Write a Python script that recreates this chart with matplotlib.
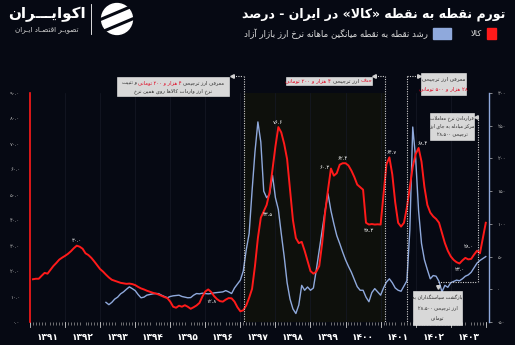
import re

import matplotlib
matplotlib.use("Agg")
import matplotlib.pyplot as plt
from matplotlib.lines import Line2D
from matplotlib.patches import Rectangle, Circle
from matplotlib.transforms import blended_transform_factory

plt.rcParams["font.family"] = ["DejaVu Sans"]

W, H = 515, 345
BG = "#060913"
RED = "#ff1a1a"
BLUE = "#8fa9dc"
GREY = "#b8b8b8"

years = list(range(1391, 1404))

# point-to-point goods inflation (%), one value per month from the first month of 1391
red_start = 1
goods_inflation = [
    16.8, 17.0, 17.0, 18.2, 19.3, 19.0, 20.5, 22.0, 23.2, 24.5,
    25.3, 26.0, 26.8, 27.8, 29.0, 30.0, 29.6, 28.8, 27.0, 26.3,
    25.2, 23.8, 22.3, 20.8, 19.8, 18.6, 17.5, 16.6, 16.2, 15.8,
    15.4, 15.2, 15.0, 15.1, 14.9, 14.5, 13.8, 13.2, 12.8, 12.3,
    11.9, 11.5, 11.2, 10.8, 10.3, 9.8, 9.4, 8.0, 6.0, 5.6,
    6.4, 6.0, 6.6, 6.0, 5.2, 5.8, 6.5, 7.5, 10.0, 12.0,
    12.8, 11.8, 10.2, 9.0, 8.2, 8.0, 8.8, 9.4, 9.3, 8.0,
    5.8, 4.2, 4.6, 6.5, 9.5, 13.0, 22.0, 33.0, 41.0, 43.5,
    46.0, 51.0, 60.0, 69.0, 76.6, 74.5, 70.0, 64.0, 52.0, 40.0,
    33.0, 31.0, 31.5, 28.0, 24.0, 20.0, 19.0, 19.8, 22.0, 31.0,
    43.0, 52.0, 60.3, 57.5, 58.5, 61.8, 62.4, 62.4, 61.5, 59.5,
    57.0, 54.0, 53.0, 52.0, 39.0, 38.3, 38.5, 38.3, 38.4, 38.3,
    50.0, 62.0, 64.7, 58.0, 47.0, 39.0, 37.5, 39.0, 45.0, 53.0,
    61.0, 66.0, 68.4, 63.0, 53.0, 46.0, 43.0, 41.5, 40.5, 39.0,
    35.0, 31.0, 28.0, 25.8, 24.4, 23.5, 23.0, 24.2, 25.2, 24.6,
    24.8, 26.5, 28.0, 27.0, 33.0, 39.0,
]

# point-to-point growth of the monthly average free-market exchange rate (%)
blue_start = 26
fx_growth = [
    -20, -23.5, -20, -15, -12, -7, -4, 0, 3.7, 1,
    -2, -8, -13, -12, -9, -8, -7, -6.5, -6.6, -9,
    -11, -13, -11, -10, -9.5, -9, -11, -12, -13, -12.7,
    -9, -6.5, -7, -6, -6.5, -7, -6.5, -5.5, -5, -4.5,
    -4, -2, -4, -6.5, 2, 8, 14, 28, 60, 85,
    150, 210, 255.8, 225, 150, 140, 145, 174, 140, 122,
    85, 50, 10, -15, -30, -37, -24, 6, -1.5, 3.5,
    -1.5, 2, 30, 60, 90, 120, 146, 120, 100, 82,
    70, 57, 45, 35, 26, 15, 4, -1.5, -1.5, -12,
    -19, -5, 1, -4, -9, 2, 11, 16, 10, 2,
    -1.5, -3, 5, 13, 90, 248, 200, 120, 70, 45,
    30, 16, 21, 20, 12, -4, 6, 3, 10, 12,
    14, 13, 16, 20, 22, 26, 33, 40, 44, 47,
    50,
]

# months (counted from the start of 1391) of the policy changes
policy_months = [73.4, 121.4, 129.2, 153.2]

# ---- Persian text shaping (isolated, final, initial, medial)
FORMS = {
    "ا": ("\uFE8D", "\uFE8E", None, None),
    "آ": ("\uFE81", "\uFE82", None, None),
    "ب": ("\uFE8F", "\uFE90", "\uFE91", "\uFE92"),
    "پ": ("\uFB56", "\uFB57", "\uFB58", "\uFB59"),
    "ت": ("\uFE95", "\uFE96", "\uFE97", "\uFE98"),
    "ث": ("\uFE99", "\uFE9A", "\uFE9B", "\uFE9C"),
    "ج": ("\uFE9D", "\uFE9E", "\uFE9F", "\uFEA0"),
    "چ": ("\uFB7A", "\uFB7B", "\uFB7C", "\uFB7D"),
    "ح": ("\uFEA1", "\uFEA2", "\uFEA3", "\uFEA4"),
    "خ": ("\uFEA5", "\uFEA6", "\uFEA7", "\uFEA8"),
    "د": ("\uFEA9", "\uFEAA", None, None),
    "ذ": ("\uFEAB", "\uFEAC", None, None),
    "ر": ("\uFEAD", "\uFEAE", None, None),
    "ز": ("\uFEAF", "\uFEB0", None, None),
    "ژ": ("\uFB8A", "\uFB8B", None, None),
    "س": ("\uFEB1", "\uFEB2", "\uFEB3", "\uFEB4"),
    "ش": ("\uFEB5", "\uFEB6", "\uFEB7", "\uFEB8"),
    "ص": ("\uFEB9", "\uFEBA", "\uFEBB", "\uFEBC"),
    "ض": ("\uFEBD", "\uFEBE", "\uFEBF", "\uFEC0"),
    "ط": ("\uFEC1", "\uFEC2", "\uFEC3", "\uFEC4"),
    "ظ": ("\uFEC5", "\uFEC6", "\uFEC7", "\uFEC8"),
    "ع": ("\uFEC9", "\uFECA", "\uFECB", "\uFECC"),
    "غ": ("\uFECD", "\uFECE", "\uFECF", "\uFED0"),
    "ف": ("\uFED1", "\uFED2", "\uFED3", "\uFED4"),
    "ق": ("\uFED5", "\uFED6", "\uFED7", "\uFED8"),
    "ک": ("\uFB8E", "\uFB8F", "\uFB90", "\uFB91"),
    "گ": ("\uFB92", "\uFB93", "\uFB94", "\uFB95"),
    "ل": ("\uFEDD", "\uFEDE", "\uFEDF", "\uFEE0"),
    "م": ("\uFEE1", "\uFEE2", "\uFEE3", "\uFEE4"),
    "ن": ("\uFEE5", "\uFEE6", "\uFEE7", "\uFEE8"),
    "و": ("\uFEED", "\uFEEE", None, None),
    "ه": ("\uFEE9", "\uFEEA", "\uFEEB", "\uFEEC"),
    "ی": ("\uFBFC", "\uFBFD", "\uFBFE", "\uFBFF"),
    "ـ": ("ـ", "ـ", "ـ", "ـ"),
}
LAM_ALEF = {"ا": ("\uFEFB", "\uFEFC"), "آ": ("\uFEF5", "\uFEF6")}
MIRROR = {"«": "»", "»": "«", "(": ")", ")": "("}
FA_DIGITS = str.maketrans("0123456789", "۰۱۲۳۴۵۶۷۸۹")


def shape(s):
    out = []
    i = 0
    while i < len(s):
        c = s[i]
        if c not in FORMS:
            out.append(c)
            i += 1
            continue
        prev = s[i - 1] if i > 0 else ""
        joins_prev = prev in FORMS and FORMS[prev][2] is not None
        if c == "ل" and i + 1 < len(s) and s[i + 1] in LAM_ALEF:
            lig = LAM_ALEF[s[i + 1]]
            out.append(lig[1] if joins_prev else lig[0])
            i += 2
            continue
        nxt = s[i + 1] if i + 1 < len(s) else ""
        iso, fin, ini, med = FORMS[c]
        joins_next = ini is not None and nxt in FORMS
        if joins_prev and joins_next:
            out.append(med)
        elif joins_prev:
            out.append(fin)
        elif joins_next:
            out.append(ini)
        else:
            out.append(iso)
        i += 1
    return "".join(out).replace("\u200c", "")


def rtl(s):
    tokens = re.findall(r"[0-9۰-۹][0-9۰-۹.,،]*[0-9۰-۹]|[0-9۰-۹]|.", shape(s))
    return "".join(MIRROR.get(t, t) for t in reversed(tokens))


def fa_num(v, fmt="{:.1f}"):
    return fmt.format(v).translate(FA_DIGITS)


def px(x, y):
    return x / W, 1 - y / H


fig = plt.figure(figsize=(W / 100, H / 100), dpi=100, facecolor=BG)
renderer = fig.canvas.get_renderer()

ax = fig.add_axes([30 / W, 1 - 322 / H, (489 - 30) / W, (322 - 93) / H])
ax.set_facecolor(BG)
ax2 = ax.twinx()

# ---- series
red_x = list(range(red_start, red_start + len(goods_inflation)))
blue_x = list(range(blue_start, blue_start + len(fx_growth)))
ax.plot(red_x, goods_inflation, color=RED, lw=1.4, zorder=4)
ax2.plot(blue_x, fx_growth, color=BLUE, lw=1.0, zorder=3)
ax.set_zorder(ax2.get_zorder() + 1)
ax.patch.set_visible(False)
ax2.patch.set_visible(True)
ax2.patch.set_facecolor(BG)

ax.set_xlim(0.885, 157.1)
ax.set_ylim(0, 90)
ax2.set_ylim(-50, 300)

# shaded period between the two 4,200-toman decisions
ax2.axvspan(policy_months[0], policy_months[1], color="#0e100c", zorder=0, lw=0)
for k in range(1, 13):
    ax2.axvline(12 * k, color="#161a26", lw=0.5, zorder=1)

# ---- axes styling
ax.spines["left"].set_color(RED)
ax.spines["left"].set_linewidth(1.2)
for side in ["top", "bottom", "right"]:
    ax.spines[side].set_visible(False)
for side in ["top", "bottom", "left"]:
    ax2.spines[side].set_visible(False)
ax2.spines["right"].set_color(BLUE)
ax2.spines["right"].set_linewidth(1.0)

left_ticks = list(range(0, 91, 10))
ax.set_yticks(left_ticks, [fa_num(v) for v in left_ticks])
ax.tick_params(axis="y", length=0, pad=7, labelsize=3.8, labelcolor=GREY)
right_ticks = list(range(-50, 301, 50))
ax2.set_yticks(right_ticks, [fa_num(v, "{:d}") for v in right_ticks])
ax2.tick_params(axis="y", length=2, width=0.5, color=GREY, pad=4,
                labelsize=3.8, labelcolor=GREY)

centers = [12 * k + 6 for k in range(len(years))]
ax.set_xticks(centers, [str(y).translate(FA_DIGITS) for y in years])
ax.set_xticks(range(0, 157), minor=True)
ax.tick_params(axis="x", which="major", length=0, pad=8, labelsize=6.5,
               labelcolor="white")
ax.tick_params(axis="x", which="minor", length=2.2, width=0.5, color="#9a9a9a")
for lab in ax.get_xticklabels():
    lab.set_fontweight("bold")
xt = blended_transform_factory(ax.transData, ax.transAxes)
for k in range(14):
    ax.plot([12 * k, 12 * k], [0, -0.022], color="#c8c8c8", lw=0.6,
            transform=xt, clip_on=False)

# ---- value labels on the goods series
label_offsets = {15: (0, 5), 60: (3, -12), 84: (0, 5), 79: (4, -3), 102: (-6, 1),
                 106: (0, 5), 115: (0, -6), 122: (2, 5), 132: (4, 4),
                 146: (0, -6), 152: (-8, 4)}
for i, (dx, dy) in label_offsets.items():
    ax.annotate(fa_num(goods_inflation[i]), (red_x[i], goods_inflation[i]),
                xytext=(dx * 0.72, dy * 0.72), textcoords="offset points",
                ha="center", va="center", fontsize=3.8, color="white", zorder=6)

# ---- policy annotation lines
dot = dict(color="#d0d0d0", lw=0.8, ls=(0, (1, 1.2)), clip_on=False, zorder=7)
ft = fig.transFigure


def fy(y):
    return 1 - y / H


bt = blended_transform_factory(ax.transData, ft)
for m in policy_months[:3]:
    ax.plot([m, m], [fy(76), fy(322)], transform=bt, **dot)
ax.plot([policy_months[3]] * 2, [fy(117), fy(282)], transform=bt, **dot)


def hline(x0, x1, y):
    fig.add_artist(Line2D([x0 / W, x1 / W], [fy(y), fy(y)], **dot))


def arrow(x, y, marker):
    fig.add_artist(Line2D([x / W], [fy(y)], marker=marker, markersize=2.6,
                          color="#d0d0d0", lw=0, clip_on=False, zorder=8))


hline(233, 243, 76)
arrow(231.5, 76, "<")
hline(375, 384, 76)
arrow(373.5, 76, "<")
hline(407, 417, 76)
arrow(419, 76, ">")
hline(476, 477, 117)
arrow(476, 117, "<")
hline(438, 477, 282)
arrow(438, 287, "v")

# ---- annotation boxes
BOX_TXT = "#2a2a2a"
BOX_RED = "#e0001b"
SPACE = 0.318 * 100 / 72


def box(x0, y0, x1, y1):
    fig.add_artist(Rectangle(px(x0, y1), (x1 - x0) / W, (y1 - y0) / H,
                             transform=ft, facecolor="#d8d8d8", edgecolor="#f0f0f0",
                             lw=0.4, zorder=8))


def rtl_line(xc, y, parts, size=3.9, weight="normal"):
    texts = [fig.text(0, 0, rtl(s), fontsize=size, color=c, ha="right",
                      va="center", fontweight=weight, zorder=9) for s, c in parts]
    widths = [t.get_window_extent(renderer).width for t in texts]
    gap = SPACE * size
    right = xc + (sum(widths) + gap * (len(parts) - 1)) / 2
    for t, w in zip(texts, widths):
        t.set_position(px(right, y))
        right -= w + gap


box(117, 77, 229, 96)
rtl_line(173, 82.5, [("معرفی ارز ترجیحی", BOX_TXT), ("۴ هزار و ۲۰۰ تومانی", BOX_RED),
                     ("و تثبیت", BOX_TXT)], size=3.7)
rtl_line(173, 91, [("نرخ ارز واردات کالاها روی همین نرخ", BOX_TXT)], size=3.7)

box(286, 77, 372, 85)
rtl_line(329, 81, [("حذف", BOX_RED), ("ارز ترجیحی", BOX_TXT),
                   ("۴ هزار و ۲۰۰ تومانی", BOX_RED)])

box(421, 73, 466, 95)
rtl_line(443.5, 79, [("معرفی ارز ترجیحی", BOX_TXT)])
rtl_line(443.5, 89, [("۲۸ هزار و ۵۰۰ تومانی", BOX_RED)])

box(430, 113, 474, 140)
rtl_line(452, 118.5, [("قراردادن نرخ معاملات", BOX_TXT)], size=3.4)
rtl_line(452, 126.5, [("مرکز مبادله به جای ارز", BOX_TXT)], size=3.4)
rtl_line(452, 134.5, [("ترجیحی ۲۸،۵۰۰", BOX_TXT)], size=3.4)

box(413, 291, 462, 325)
rtl_line(437.5, 298, [("بازگشت سیاستگذاران به", BOX_TXT)], size=3.5)
rtl_line(437.5, 308, [("ارز ترجیحی ۲۸،۵۰۰", BOX_TXT)], size=3.5)
rtl_line(437.5, 318, [("تومانی", BOX_TXT)], size=3.5)

# ---- title and legend
fig.text(*px(505, 14), rtl("تورم نقطه به نقطه «کالا» در ایران - درصد"),
         fontsize=9.0, fontweight="bold", color="white", ha="right", va="center")
fig.add_artist(Rectangle(px(487, 39), 9 / W, 11 / H, transform=ft, color=RED))
fig.text(*px(482, 33.5), rtl("کالا"), fontsize=6.0, color="#dcdcdc",
         ha="right", va="center")
fig.add_artist(Rectangle(px(433, 39), 18 / W, 11 / H, transform=ft, color=BLUE))
fig.text(*px(428, 33.5), rtl("رشد نقطه به نقطه میانگین ماهانه نرخ ارز بازار آزاد"),
         fontsize=6.2, color="#dcdcdc", ha="right", va="center")

# ---- brand mark
fig.text(*px(47, 14), rtl("اکوایـــران"), fontsize=11, fontweight="bold",
         color="white", ha="center", va="center")
fig.text(*px(47, 30), rtl("تصویـر اقتصـاد ایـران"), fontsize=5.2,
         color="#d0d0d0", ha="center", va="center")
fig.add_artist(Line2D([91 / W, 91 / W], [fy(4), fy(34)], color="white", lw=0.6))
logo = fig.add_axes([99 / W, 1 - 36 / H, 36 / W, 34 / H])
logo.set_aspect("equal")
logo.axis("off")
logo.set_xlim(-1.1, 1.1)
logo.set_ylim(-1.1, 1.1)
logo.add_patch(Circle((0, 0), 1.0, color="white"))
for off in (-0.42, 0.42):
    logo.plot([-1.3, 1.3], [off - 0.55, off + 0.55], color=BG, lw=2.2)

fig.savefig("out.png", dpi=100, facecolor=BG)
